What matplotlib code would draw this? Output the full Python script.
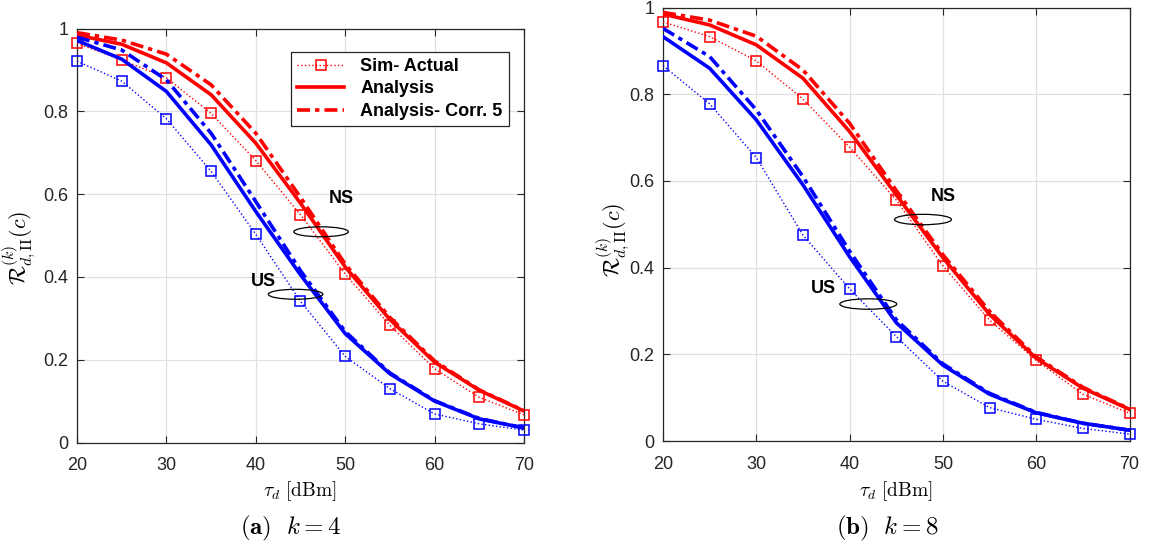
import numpy as np
import matplotlib.pyplot as plt
from matplotlib.patches import Ellipse
from matplotlib.ticker import FormatStrFormatter

plt.rcParams['font.family'] = ['Liberation Sans', 'DejaVu Sans']
plt.rcParams['mathtext.fontset'] = 'cm'

# transmit power axis
tau = [20, 25, 30, 35, 40, 45, 50, 55, 60, 65, 70]

# k = 4
ns_sim_k4 = [0.964, 0.924, 0.881, 0.795, 0.681, 0.550, 0.407, 0.283, 0.178, 0.109, 0.067]
ns_ana_k4 = [0.984, 0.962, 0.917, 0.840, 0.723, 0.578, 0.424, 0.297, 0.194, 0.126, 0.076]
ns_cor_k4 = [0.990, 0.972, 0.938, 0.864, 0.747, 0.592, 0.431, 0.302, 0.197, 0.127, 0.077]
us_sim_k4 = [0.921, 0.873, 0.782, 0.655, 0.503, 0.341, 0.208, 0.130, 0.069, 0.045, 0.030]
us_ana_k4 = [0.971, 0.926, 0.848, 0.719, 0.558, 0.405, 0.263, 0.166, 0.100, 0.057, 0.035]
us_cor_k4 = [0.979, 0.948, 0.876, 0.747, 0.582, 0.415, 0.268, 0.168, 0.101, 0.058, 0.035]

# k = 8
ns_sim_k8 = [0.967, 0.933, 0.877, 0.789, 0.678, 0.556, 0.404, 0.279, 0.186, 0.108, 0.064]
ns_ana_k8 = [0.985, 0.960, 0.914, 0.837, 0.714, 0.568, 0.423, 0.292, 0.191, 0.122, 0.073]
ns_cor_k8 = [0.989, 0.971, 0.934, 0.856, 0.733, 0.578, 0.430, 0.299, 0.194, 0.124, 0.074]
us_sim_k8 = [0.866, 0.778, 0.654, 0.475, 0.351, 0.241, 0.138, 0.077, 0.050, 0.029, 0.016]
us_ana_k8 = [0.933, 0.860, 0.741, 0.591, 0.425, 0.273, 0.175, 0.108, 0.065, 0.041, 0.025]
us_cor_k8 = [0.952, 0.887, 0.764, 0.610, 0.438, 0.280, 0.178, 0.110, 0.066, 0.041, 0.025]

W, H = 1152, 549
fig = plt.figure(figsize=(W / 100, H / 100), dpi=100)
ax1 = fig.add_axes([77 / W, (H - 442.5) / H, 447 / W, 414 / H])
ax2 = fig.add_axes([663 / W, (H - 441) / H, 466.5 / W, 433.4 / H])

dashdot = (3.6, 1.4, 1.2, 1.4)


def draw(ax, ns_sim, ns_ana, ns_cor, us_sim, us_ana, us_cor):
    for col, sim, ana, cor in [('red', ns_sim, ns_ana, ns_cor),
                               ('blue', us_sim, us_ana, us_cor)]:
        ax.plot(tau, sim, ':', color=col, lw=1.0, marker='s', ms=7.5,
                mfc='none', mew=1.1, clip_on=False, zorder=3)
        ax.plot(tau, ana, '-', color=col, lw=2.6, zorder=3)
        ax.plot(tau, cor, '-', color=col, lw=2.6, dashes=dashdot, zorder=3)
    ax.set_xlim(20, 70)
    ax.set_ylim(0, 1)
    ax.set_xticks([20, 30, 40, 50, 60, 70])
    ax.set_yticks([0, 0.2, 0.4, 0.6, 0.8, 1])
    ax.yaxis.set_major_formatter(FormatStrFormatter('%g'))
    ax.grid(True, color='#e0e0e0', lw=0.9)
    ax.set_axisbelow(True)
    ax.tick_params(direction='in', top=True, right=True, length=5,
                   labelsize=13, colors='#262626', width=0.8)
    ax.tick_params(axis='x', pad=10.5)
    ax.tick_params(axis='y', pad=6)
    for s in ax.spines.values():
        s.set_color('#262626')
        s.set_linewidth(0.9)


draw(ax1, ns_sim_k4, ns_ana_k4, ns_cor_k4, us_sim_k4, us_ana_k4, us_cor_k4)
draw(ax2, ns_sim_k8, ns_ana_k8, ns_cor_k8, us_sim_k8, us_ana_k8, us_cor_k8)

ylab = r'$\mathcal{R}^{(k)}_{d,\mathrm{II}}(c)$'
ax1.set_ylabel(ylab, fontsize=16)
ax1.yaxis.set_label_coords(-0.089, 0.47)
ax2.set_ylabel(ylab, fontsize=16)
ax2.yaxis.set_label_coords(-0.068, 0.464)

for cx in [300, 896]:
    fig.text(cx / W, 1 - 491 / H, r'$\tau_d\ \mathrm{[dBm]}$', fontsize=14,
             ha='center', va='center')
fig.text(291 / W, 1 - 528 / H, r'$\mathbf{(a)}\ \ k=4$', fontsize=18,
         ha='center', va='center')
fig.text(887 / W, 1 - 528 / H, r'$\mathbf{(b)}\ \ k=8$', fontsize=18,
         ha='center', va='center')

# NS / US group markers
for ax, ns_t, ns_e, us_t, us_e in [
        (ax1, (49.6, 0.589), (47.3, 0.509), (40.8, 0.389), (44.45, 0.358)),
        (ax2, (50.0, 0.565), (47.87, 0.511), (37.2, 0.353), (42.0, 0.316))]:
    ax.text(*ns_t, 'NS', fontsize=13, fontweight='bold', ha='center',
            va='center')
    ax.text(*us_t, 'US', fontsize=13, fontweight='bold', ha='center',
            va='center')
    for c in (ns_e, us_e):
        ax.add_patch(Ellipse(c, 6.1, 0.024, fill=False, ec='black', lw=0.9,
                             zorder=4))

# legend on the first panel
h_sim, = ax1.plot([], [], ':', color='red', lw=1.0, marker='s', ms=7.5,
                  mfc='none', mew=1.1)
h_ana, = ax1.plot([], [], '-', color='red', lw=2.6)
h_cor, = ax1.plot([], [], '-', color='red', lw=2.6, dashes=dashdot)
leg = ax1.legend([h_sim, h_ana, h_cor],
                 ['Sim- Actual', 'Analysis', 'Analysis- Corr. 5'],
                 loc='upper right',
                 bbox_to_anchor=((509 - 77) / 447, (442.5 - 51.7) / 414),
                 prop={'weight': 'bold', 'size': 13}, fancybox=False,
                 framealpha=1, edgecolor='#262626', handlelength=2.6,
                 borderpad=0.35, labelspacing=0.3, handletextpad=0.9,
                 borderaxespad=0)
leg.get_frame().set_linewidth(0.9)

fig.savefig('out.png', dpi=100)
